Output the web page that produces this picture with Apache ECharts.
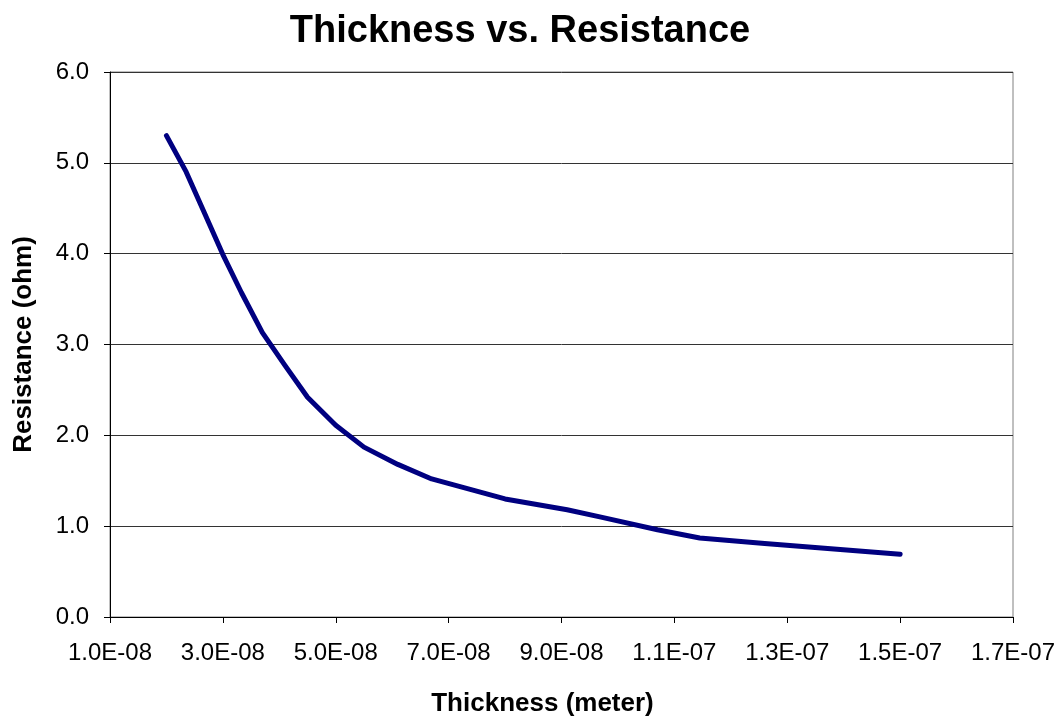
<!DOCTYPE html>
<html>
<head>
<meta charset="utf-8">
<script src="https://cdn.jsdelivr.net/npm/echarts@6/dist/echarts.min.js"></script>
<style>
  html, body { margin: 0; padding: 0; background: #fff; }
  #main { width: 1064px; height: 722px; }
</style>
</head>
<body>
<div id="main"></div>
<script type="text/javascript">
	// thickness in meter, resistance in ohm
	var thickness = [2.0e-8, 2.35e-8, 2.65e-8, 3.0e-8, 3.33e-8, 3.7e-8, 4.1e-8, 4.5e-8, 5.0e-8, 5.5e-8, 6.1e-8, 6.7e-8, 8.0e-8, 9.1e-8, 9.7e-8, 1.07e-7, 1.145e-7, 1.26e-7, 1.5e-7];
	var resistance = [5.30, 4.90, 4.48, 3.99, 3.57, 3.13, 2.77, 2.42, 2.11, 1.87, 1.68, 1.52, 1.30, 1.18, 1.10, 0.96, 0.87, 0.81, 0.69];
	var xTicks = [1e-8, 3e-8, 5e-8, 7e-8, 9e-8, 1.1e-7, 1.3e-7, 1.5e-7, 1.7e-7];

	var points = thickness.map(function (t, i) { return [t, resistance[i]]; });

	// 1.0E-08 style labels like the spreadsheet
	var sci = function (v) {
		var s = Number(v).toExponential(1).toUpperCase();
		var p = s.split('E');
		var e = parseInt(p[1], 10);
		var sign = e < 0 ? '-' : '+';
		var a = Math.abs(e);
		return p[0] + 'E' + sign + (a < 10 ? '0' + a : a);
	};

	var font = '"Liberation Sans", Arial, sans-serif';
	var chart = echarts.init(document.getElementById('main'));
	var option = {
		animation: false,
		title: {
			text: 'Thickness vs. Resistance',
			left: 515,
			top: 8,
			textAlign: 'center',
			textStyle: { fontFamily: font, fontSize: 38, fontWeight: 'bold', color: '#000' }
		},
		grid: { left: 110, right: 51, top: 72, bottom: 103, show: true, borderColor: '#808080', borderWidth: 1 },
		xAxis: {
			type: 'value',
			min: 1e-8,
			max: 1.7e-7,
			name: 'Thickness (meter)',
			nameLocation: 'middle',
			nameGap: 74,
			nameTextStyle: { fontFamily: font, fontSize: 26, fontWeight: 'bold', color: '#000', padding: [0, 38, 0, 0] },
			axisLine: { lineStyle: { color: '#000', width: 1 } },
			axisTick: { show: true, customValues: xTicks, length: 6, lineStyle: { color: '#000' } },
			axisLabel: {
				customValues: xTicks,
				formatter: sci,
				margin: 24,
				fontFamily: font, fontSize: 24, color: '#000'
			},
			splitLine: { show: false }
		},
		yAxis: {
			type: 'value',
			min: 0,
			max: 6,
			interval: 1,
			name: 'Resistance (ohm)',
			nameLocation: 'middle',
			nameGap: 73,
			nameTextStyle: { fontFamily: font, fontSize: 26, fontWeight: 'bold', color: '#000' },
			axisLine: { show: true, lineStyle: { color: '#000', width: 1 } },
			axisTick: { show: true, length: 6, lineStyle: { color: '#000' } },
			axisLabel: {
				formatter: function (v) { return v.toFixed(1); },
				margin: 21,
				fontFamily: font, fontSize: 24, color: '#000'
			},
			splitLine: { show: true, lineStyle: { color: '#333', width: 1 } }
		},
		series: [
			{
				type: 'line',
				data: points,
				showSymbol: false,
				smooth: false,
				lineStyle: { color: '#000080', width: 5, cap: 'round', join: 'round' },
				itemStyle: { color: '#000080' }
			}
		]
	};
	chart.setOption(option);
</script>
</body>
</html>
